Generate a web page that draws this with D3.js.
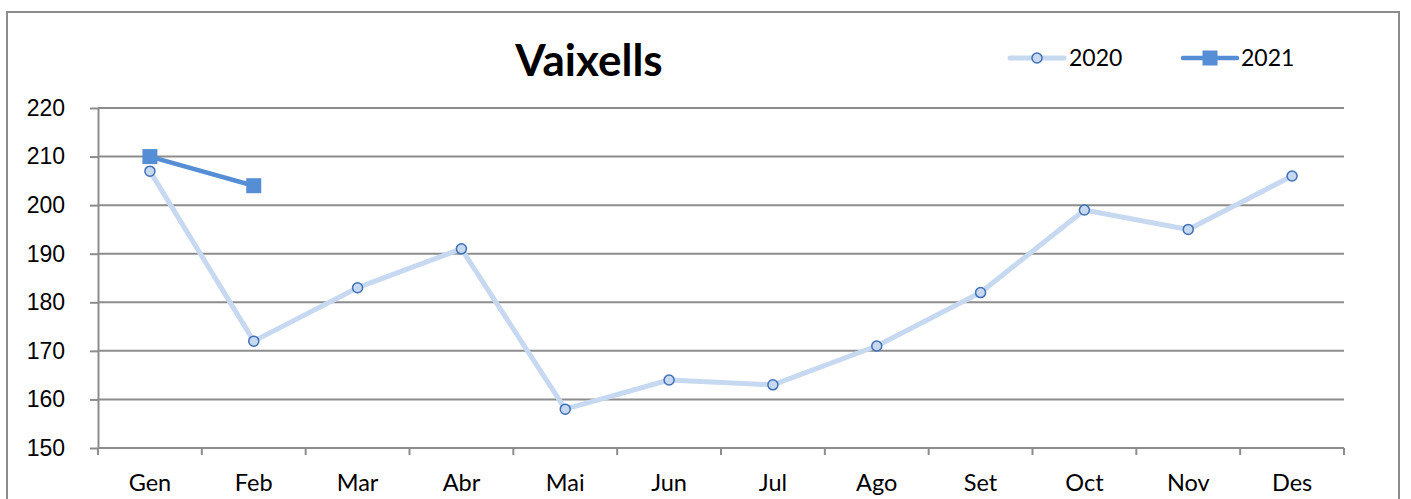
<!DOCTYPE html>
<html>
<head>
<meta charset="utf-8">
<script src="https://cdn.jsdelivr.net/npm/d3@7"></script>
<style>
  body { margin: 0; background: #fff; }
  svg { display: block; font-family: Lato, "Open Sans", sans-serif; }
</style>
</head>
<body>
<svg class="chart" width="1411" height="499"></svg>
<script>
var months = ["Gen", "Feb", "Mar", "Abr", "Mai", "Jun", "Jul", "Ago", "Set", "Oct", "Nov", "Des"];
var values2020 = [207, 172, 183, 191, 158, 164, 163, 171, 182, 199, 195, 206];
var values2021 = [210, 204];
var yTicks = [150, 160, 170, 180, 190, 200, 210, 220];

var svg = d3.select(".chart"),
    width = +svg.attr("width"),
    height = +svg.attr("height");

var grid = "#8c8c8c";
var light = "#c6d9f1";
var dark = "#558ed5";

// outer frame (bottom edge runs off the picture)
svg.append("rect")
    .attr("x", 7).attr("y", 12)
    .attr("width", 1392).attr("height", 520)
    .attr("fill", "none").attr("stroke", grid).attr("stroke-width", 2);

var x = d3.scaleBand().domain(months).range([98, 1344]);
var y = d3.scaleLinear().domain([150, 220]).range([448, 108]);

// gridlines + y labels
var yAxis = d3.axisLeft(y).tickValues(yTicks).tickSize(8).tickPadding(25)
    .tickSizeOuter(0);
var gy = svg.append("g").attr("transform", "translate(98,0)").call(yAxis);
gy.select(".domain").attr("stroke", grid).attr("stroke-width", 2);
gy.selectAll(".tick line").attr("stroke", grid).attr("stroke-width", 2);
gy.selectAll(".tick text").attr("font-size", 23).attr("fill", "#000");

svg.append("g").selectAll("line")
    .data(yTicks)
    .enter().append("line")
    .attr("x1", 98).attr("x2", 1344)
    .attr("y1", function(d) { return y(d); })
    .attr("y2", function(d) { return y(d); })
    .attr("stroke", grid).attr("stroke-width", 2);

// category ticks on the bottom axis
svg.append("g").selectAll("line")
    .data(months.concat(["end"]))
    .enter().append("line")
    .attr("x1", function(d, i) { return i < 12 ? x(d) : x.range()[1]; })
    .attr("x2", function(d, i) { return i < 12 ? x(d) : x.range()[1]; })
    .attr("y1", 448).attr("y2", 455)
    .attr("stroke", grid).attr("stroke-width", 2);

svg.append("g").selectAll("text")
    .data(months)
    .enter().append("text")
    .attr("x", function(d) { return x(d) + x.bandwidth() / 2; })
    .attr("y", 491)
    .attr("text-anchor", "middle")
    .attr("font-size", 23.5)
    .text(function(d) { return d; });

var cx = function(d, i) { return x(months[i]) + x.bandwidth() / 2; };
var line = d3.line().x(cx).y(function(d) { return y(d); });

// 2020
svg.append("path").datum(values2020)
    .attr("d", line).attr("fill", "none")
    .attr("stroke", light).attr("stroke-width", 5).attr("stroke-linejoin", "round");
svg.append("g").selectAll("circle")
    .data(values2020)
    .enter().append("circle")
    .attr("cx", cx).attr("cy", function(d) { return y(d); })
    .attr("r", 5)
    .attr("fill", light).attr("stroke", "#3f6fb6").attr("stroke-width", 1.5);

// 2021
svg.append("path").datum(values2021)
    .attr("d", line).attr("fill", "none")
    .attr("stroke", dark).attr("stroke-width", 4.5).attr("stroke-linejoin", "round");
svg.append("g").selectAll("rect")
    .data(values2021)
    .enter().append("rect")
    .attr("x", function(d, i) { return cx(d, i) - 7.5; })
    .attr("y", function(d) { return y(d) - 7.5; })
    .attr("width", 15).attr("height", 15)
    .attr("fill", dark);

// title
svg.append("text")
    .attr("x", 589).attr("y", 76)
    .attr("text-anchor", "middle")
    .attr("font-size", 44).attr("font-weight", "bold")
    .text("Vaixells");

// legend
var legend = svg.append("g");
legend.append("line").attr("x1", 1010).attr("x2", 1064).attr("y1", 58).attr("y2", 58)
    .attr("stroke", light).attr("stroke-width", 5).attr("stroke-linecap", "round");
legend.append("circle").attr("cx", 1037).attr("cy", 58).attr("r", 5)
    .attr("fill", light).attr("stroke", "#3f6fb6").attr("stroke-width", 1.5);
legend.append("text").attr("x", 1069).attr("y", 66).attr("font-size", 23).text("2020");
legend.append("line").attr("x1", 1183).attr("x2", 1237).attr("y1", 58).attr("y2", 58)
    .attr("stroke", dark).attr("stroke-width", 4.5).attr("stroke-linecap", "round");
legend.append("rect").attr("x", 1202.5).attr("y", 50.5).attr("width", 15).attr("height", 15)
    .attr("fill", dark);
legend.append("text").attr("x", 1241).attr("y", 66).attr("font-size", 23).text("2021");
</script>
</body>
</html>
